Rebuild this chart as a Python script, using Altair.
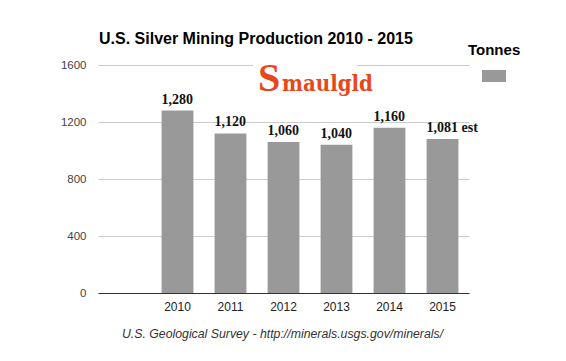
import altair as alt
import pandas as pd

years = ["2010", "2011", "2012", "2013", "2014", "2015"]
tonnes = [1280, 1120, 1060, 1040, 1160, 1081]
bar_labels = ["1,280", "1,120", "1,060", "1,040", "1,160", "1,081 est"]
slots = [" "] + years
series = ["Tonnes"] * 6
y_ticks = [0, 400, 800, 1200, 1600]
title_text = "U.S. Silver Mining Production 2010 - 2015"
source_text = "U.S. Geological Survey - http://minerals.usgs.gov/minerals/"
logo_initial = "S"
logo_rest = "maulgld"

df = pd.DataFrame({"year": years, "tonnes": tonnes, "label": bar_labels, "series": series})

x_scale = alt.Scale(domain=slots, paddingInner=0.4, paddingOuter=0.2)
y_scale = alt.Scale(domain=[0, 1600])

bars = alt.Chart(df).mark_bar().encode(
    x=alt.X("year:N", scale=x_scale, sort=None,
            axis=alt.Axis(title=None, labelAngle=0, ticks=False, tickSize=0, labelPadding=8,
                          domainColor="#333333", labelColor="#222222", labelFontSize=12,
                          labelFont="Liberation Sans", grid=False)),
    y=alt.Y("tonnes:Q", scale=y_scale,
            axis=alt.Axis(title=None, values=y_ticks, format="d", ticks=False, tickSize=0,
                          domain=False, labelPadding=12, gridColor="#cccccc",
                          labelColor="#444444", labelFontSize=11.5, labelFont="Liberation Sans")),
    color=alt.Color("series:N", scale=alt.Scale(range=["#999999"]),
                    legend=alt.Legend(title="Tonnes", orient="none", legendX=370, legendY=-22,
                                      titleFontSize=15, titleFont="Liberation Sans",
                                      titleFontWeight="bold", titleColor="#000000", titlePadding=6,
                                      symbolType="M-1,-0.5H1V0.5H-1Z", symbolSize=576,
                                      symbolStrokeWidth=0, symbolOpacity=1, symbolOffset=14,
                                      labelExpr="''", padding=0)),
)

labels = alt.Chart(df).mark_text(
    align="left", baseline="alphabetic", dy=-7, dx=0,
    font="Liberation Serif", fontWeight="bold", fontSize=14, color="#111111"
).encode(
    x=alt.X("year:N", scale=x_scale, bandPosition=0, sort=None),
    y=alt.Y("tonnes:Q", scale=y_scale),
    text="label:N",
)

logo_bg = alt.Chart(pd.DataFrame({"a": [0]})).mark_rect(color="white").encode(
    x=alt.value(155), x2=alt.value(259), y=alt.value(-8), y2=alt.value(34)
)

logo_s = alt.Chart(pd.DataFrame({"t": [logo_initial]})).mark_text(
    align="left", baseline="alphabetic", font="Liberation Serif", fontWeight="bold",
    fontSize=40, color="#E8471B"
).encode(x=alt.value(160), y=alt.value(26), text="t:N")

logo_r = alt.Chart(pd.DataFrame({"t": [logo_rest]})).mark_text(
    align="left", baseline="alphabetic",
    font="DejaVu Serif Condensed, Liberation Sans Narrow, DejaVu Sans Condensed, Liberation Serif",
    fontWeight="bold", fontSize=22, color="#E8471B"
).encode(x=alt.value(184), y=alt.value(25.5), text="t:N")

title = alt.Chart(pd.DataFrame({"t": [title_text]})).mark_text(
    align="left", baseline="alphabetic", font="Liberation Sans", fontWeight="bold",
    fontSize=16, color="#000000"
).encode(x=alt.value(1), y=alt.value(-21), text="t:N")

source = alt.Chart(pd.DataFrame({"t": [source_text]})).mark_text(
    align="center", baseline="alphabetic", font="Liberation Sans", fontStyle="italic",
    fontSize=12.3, color="#333333"
).encode(x=alt.value(184.5), y=alt.value(272.6), text="t:N")

chart = alt.layer(bars, labels, logo_bg, logo_s, logo_r, title, source).properties(
    width=371, height=228,
    autosize=alt.AutoSizeParams(type="none"),
    padding={"left": 90, "top": 57, "right": 89, "bottom": 60},
    background="white",
).configure_view(stroke=None)

chart.save("out.html", embed_options={"renderer": "svg", "actions": False})
